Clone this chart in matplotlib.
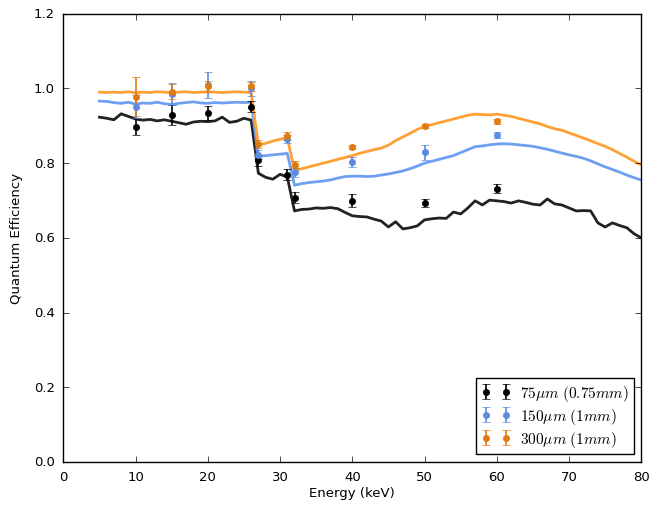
import numpy as np
import matplotlib
matplotlib.use('Agg')
import matplotlib.pyplot as plt

# simulated QE curves, 1 keV steps from 5 to 80 keV
energy = np.arange(5, 81)

qe_75 = [0.923, 0.920, 0.916, 0.932, 0.925, 0.918, 0.915, 0.917, 0.913, 0.916,
         0.912, 0.908, 0.904, 0.910, 0.912, 0.911, 0.913, 0.923, 0.909, 0.912,
         0.920, 0.915,
         0.773, 0.762, 0.757, 0.770, 0.763,
         0.672, 0.676, 0.677, 0.680, 0.679, 0.681, 0.678, 0.668, 0.659, 0.657,
         0.656, 0.650, 0.645, 0.629, 0.643, 0.624, 0.627, 0.632, 0.648, 0.651,
         0.653, 0.652, 0.669, 0.664, 0.680, 0.699, 0.688, 0.701, 0.699, 0.697,
         0.693, 0.699, 0.695, 0.690, 0.688, 0.704, 0.691, 0.688, 0.680, 0.672,
         0.673, 0.672, 0.640, 0.629, 0.640, 0.633, 0.627, 0.611, 0.600]

qe_150 = [0.966, 0.965, 0.962, 0.960, 0.963, 0.958, 0.961, 0.960, 0.963, 0.959,
          0.957, 0.960, 0.962, 0.964, 0.961, 0.960, 0.962, 0.961, 0.962, 0.963,
          0.962, 0.963,
          0.818, 0.820, 0.822, 0.824, 0.826,
          0.741, 0.745, 0.748, 0.750, 0.752, 0.755, 0.760, 0.764, 0.765, 0.765,
          0.764, 0.765, 0.768, 0.771, 0.775, 0.779, 0.785, 0.792, 0.800, 0.805,
          0.810, 0.815, 0.820, 0.828, 0.836, 0.844, 0.846, 0.849, 0.851, 0.852,
          0.851, 0.849, 0.847, 0.845, 0.841, 0.837, 0.832, 0.827, 0.822, 0.818,
          0.813, 0.806, 0.798, 0.790, 0.783, 0.776, 0.768, 0.761, 0.755]

qe_300 = [0.990, 0.989, 0.990, 0.989, 0.991, 0.988, 0.990, 0.989, 0.991, 0.990,
          0.988, 0.990, 0.991, 0.989, 0.990, 0.991, 0.990, 0.989, 0.990, 0.991,
          0.990, 0.989,
          0.848, 0.853, 0.859, 0.864, 0.868,
          0.780, 0.785, 0.790, 0.795, 0.800, 0.805, 0.810, 0.815, 0.820, 0.826,
          0.831, 0.836, 0.840, 0.848, 0.860, 0.870, 0.880, 0.890, 0.898, 0.903,
          0.908, 0.913, 0.918, 0.923, 0.928, 0.931, 0.930, 0.929, 0.931, 0.928,
          0.925, 0.920, 0.915, 0.910, 0.905, 0.898, 0.892, 0.888, 0.881, 0.874,
          0.867, 0.860, 0.852, 0.845, 0.836, 0.826, 0.816, 0.805, 0.795]

# measured points
e_meas = [10, 15, 20, 26, 27, 31, 32, 40, 50, 60]
meas_75 = [0.898, 0.929, 0.935, 0.951, 0.807, 0.769, 0.707, 0.699, 0.693, 0.731]
err_75 = [0.024, 0.026, 0.019, 0.015, 0.015, 0.015, 0.015, 0.017, 0.010, 0.012]
meas_150 = [0.951, 0.985, 1.008, 1.000, 0.822, 0.865, 0.775, 0.803, 0.829, 0.875]
err_150 = [0.030, 0.030, 0.035, 0.020, 0.012, 0.010, 0.012, 0.013, 0.020, 0.008]
meas_300 = [0.978, 0.991, 1.006, 1.006, 0.851, 0.873, 0.796, 0.843, 0.899, 0.912]
err_300 = [0.053, 0.020, 0.015, 0.012, 0.010, 0.010, 0.010, 0.006, 0.005, 0.006]

labels = [r'$75\mu m\ (0.75mm)$', r'$150\mu m\ (1mm)$', r'$300\mu m\ (1mm)$']
line_colors = ['#222222', '#6f9ff0', '#ffa033']
point_colors = ['black', '#5b8ae0', '#e07a10']

plt.style.use('classic')
plt.rcParams['font.size'] = 9.5

fig = plt.figure(figsize=(6.53, 5.06), dpi=100, facecolor='white')
ax = fig.add_axes([0.097, 0.085, 0.885, 0.886])

for qe, c in zip([qe_75, qe_150, qe_300], line_colors):
    ax.plot(energy, qe, color=c, lw=2)

for m, e, c, lab in zip([meas_75, meas_150, meas_300], [err_75, err_150, err_300],
                        point_colors, labels):
    ax.errorbar(e_meas, m, yerr=e, fmt='o', color=c, ecolor=c, mec=c,
                ms=4.5, capsize=3, elinewidth=1.2, label=lab)

ax.set_xlim(0, 80)
ax.set_ylim(0, 1.2)
ax.tick_params(axis='both', pad=6)
ax.set_xlabel('Energy (keV)', labelpad=2)
ax.set_ylabel('Quantum Efficiency', labelpad=8)
ax.legend(loc='lower right', numpoints=2, fontsize=11, fancybox=False,
          handlelength=1.9, handletextpad=0.6, borderaxespad=0.5,
          labelspacing=0.2, borderpad=0.35)

fig.savefig('out.png', dpi=100, facecolor='white')
